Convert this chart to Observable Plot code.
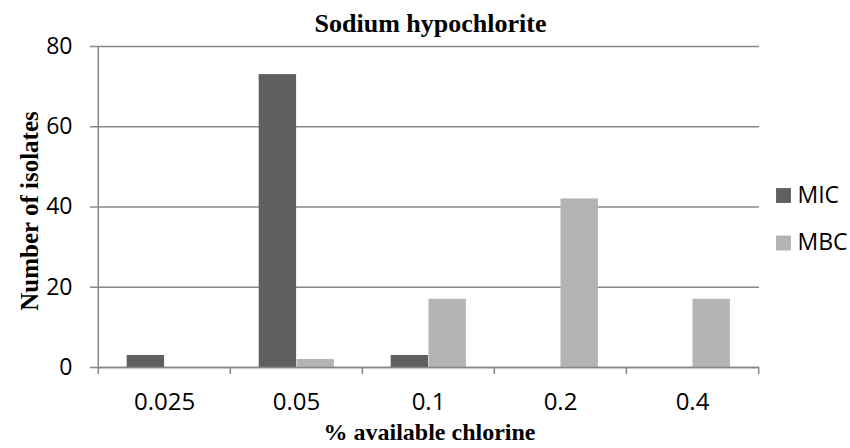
<!DOCTYPE html>
<html>
<head>
<meta charset="utf-8">
<script src="https://cdn.jsdelivr.net/npm/d3@7"></script>
<script src="https://cdn.jsdelivr.net/npm/@observablehq/plot@0.6"></script>
<style>
  html, body { margin: 0; padding: 0; background: #fff; }
  #chart svg { display: block; }
</style>
</head>
<body>
<div id="chart"></div>
<script>
const categories = ["0.025", "0.05", "0.1", "0.2", "0.4"];
const series = ["MIC", "MBC"];
const micValues = [3, 73, 3, 0, 0];
const mbcValues = [0, 2, 17, 42, 17];
const yTicks = [0, 20, 40, 60, 80];
const title = "Sodium hypochlorite";
const xLabel = "% available chlorine";
const yLabel = "Number of isolates";

const colors = {MIC: "#5f5f5f", MBC: "#b3b3b3"};
const micData = categories.map((c, i) => ({cat: c, series: "MIC", value: micValues[i]}));
const mbcData = categories.map((c, i) => ({cat: c, series: "MBC", value: mbcValues[i]}));

const W = 850, H = 448;
const mL = 97, mR = 91, mT = 46, mB = 81;
const band = (W - mL - mR) / categories.length;
const half = band / 2;
const barW = 37.8;
const outerGap = 28.7;

const sans = "'Open Sans', 'DejaVu Sans', sans-serif";
const serif = "'Liberation Serif', 'Times New Roman', serif";

const chart = Plot.plot({
  width: W,
  height: H,
  marginLeft: mL,
  marginRight: mR,
  marginTop: mT,
  marginBottom: mB,
  style: {fontFamily: sans, fontSize: "24px", color: "#000", background: "#fff"},
  x: {domain: categories, padding: 0, axis: null, label: null},
  y: {domain: [0, 80], axis: null, label: null},
  marks: [
    // gridlines (extended left to form the y ticks)
    Plot.ruleY(yTicks, {stroke: "#888", strokeWidth: 1.5, insetLeft: -7}),
    // y axis line
    Plot.ruleX([categories[0]], {y1: 0, y2: 80, dx: -half, stroke: "#888", strokeWidth: 1.5}),
    // bars
    Plot.barY(micData, {x: "cat", y: "value", fill: colors.MIC, insetLeft: outerGap, insetRight: band - outerGap - barW}),
    Plot.barY(mbcData, {x: "cat", y: "value", fill: colors.MBC, insetLeft: outerGap + barW, insetRight: band - outerGap - 2 * barW}),
    // x baseline
    Plot.ruleY([0], {stroke: "#888", strokeWidth: 1.5}),
    // category boundary ticks
    Plot.ruleX(categories, {x: d => d, y1: 0, y2: 0, insetBottom: -7, dx: -half, stroke: "#888", strokeWidth: 1.5}),
    Plot.ruleX([categories[categories.length - 1]], {x: d => d, y1: 0, y2: 0, insetBottom: -7, dx: half, stroke: "#888", strokeWidth: 1.5}),
    // y tick labels
    Plot.axisY({ticks: yTicks, label: null, tickSize: 0, tickPadding: 25, fontSize: 23, fontFamily: sans, fill: "#000"}),
    // x tick labels
    Plot.axisX({label: null, tickSize: 0, tickPadding: 25, fontSize: 24, fontFamily: sans, fill: "#000"}),
    // title
    Plot.text([title], {frameAnchor: "top", dy: -15, dx: 2, lineAnchor: "bottom", fontFamily: serif, fontWeight: "bold", fontSize: 26, fill: "#000"}),
    // x label
    Plot.text([xLabel], {frameAnchor: "bottom", dy: 65, dx: 1, lineAnchor: "middle", fontFamily: serif, fontWeight: "bold", fontSize: 24, fill: "#000"}),
    // y label
    Plot.text([yLabel], {frameAnchor: "left", dx: -68, dy: 4, rotate: -90, textAnchor: "middle", lineAnchor: "middle", fontFamily: serif, fontWeight: "bold", fontSize: 25, fill: "#000"}),
    // legend
    Plot.dot([series[0]], {frameAnchor: "right", dx: 24, dy: -11.5, symbol: "square", r: 8.4, fill: colors.MIC}),
    Plot.text([series[0]], {frameAnchor: "right", dx: 38, dy: -11.5, text: d => d, textAnchor: "start", fontSize: 23, fontFamily: sans, fill: "#000"}),
    Plot.dot([series[1]], {frameAnchor: "right", dx: 24, dy: 36, symbol: "square", r: 8.4, fill: colors.MBC}),
    Plot.text([series[1]], {frameAnchor: "right", dx: 38, dy: 36, text: d => d, textAnchor: "start", fontSize: 23, fontFamily: sans, fill: "#000"})
  ]
});
document.getElementById("chart").appendChild(chart);
</script>
</body>
</html>
